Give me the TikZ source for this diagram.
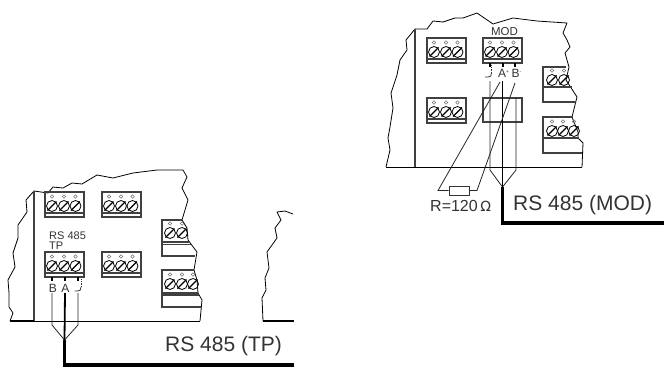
\documentclass[tikz,border=0pt]{standalone}
\usepackage{fontspec}
\setmainfont{Liberation Sans}
\newcommand{\fs}[1]{\fontsize{#1}{#1}\selectfont}
\tikzset{
 x=1pt,y=-1pt,
 outline/.style={draw=black,line width=0.8pt,line join=round},
 boxline/.style={draw=black!75,line width=1.1pt},
 thinwire/.style={draw=black!85,line width=0.8pt},
 midwire/.style={draw=black,line width=1.8pt},
 thickwire/.style={draw=black,line width=3.2pt,line join=miter},
 stub/.style={draw=black,line width=1.5pt},
 lab/.style={inner sep=0pt,text=black!80},
}
% screw at x,y
\newcommand{\screw}[2]{%
 \draw[black,line width=0.8pt] (#1,#2) circle (5.5);
 \draw[black,line width=1.1pt] (#1-4.5,#2+4.5) -- (#1+4.5,#2-4.5);
 \draw[black!55,line width=0.5pt] (#1,#2-9.5) circle (1.7);
}
% full terminal at top-left x,y
\newcommand{\term}[2]{%
 \draw[boxline] (#1,#2) rectangle ++(39,25);
 \draw[boxline] (#1,#2+21) -- ++(39,0);
 \screw{#1+7}{#2+14}\screw{#1+19}{#2+14}\screw{#1+30.5}{#2+14}
}
\begin{document}
\begin{tikzpicture}
\useasboundingbox (0,0) rectangle (672,370);
% ---------- MOD board
\draw[outline] (386,167) -- (390,150) -- (388,138) -- (390,127) -- (393,108) -- (391,93) -- (397,75) -- (400,60) -- (407,50) -- (406,40) -- (415,29) -- (427,29) -- (433,21) -- (443,22) -- (455,18) -- (463,18) -- (477,13) -- (493,24) -- (513,18) -- (537,21) -- (567,23) -- (563,33) -- (567,40) -- (570,47) -- (565,53) -- (569,67) -- (566,80) -- (577,97) -- (572,117) -- (578,132) -- (578,138) -- (583,143) -- (582,167);
\draw[boxline] (415,29) -- (415,167);
\draw[outline] (386,167) -- (582,167);
\term{427}{38}\term{483}{38}\term{427}{98}
\node[lab,font=\fs{11.5}] (modl) at (504.5,32) {MOD};
\draw[boxline] (483,98) rectangle (522,122);
% right terminals MOD
\draw[boxline] (566,67) -- (543,67) -- (543,102) -- (576,102);
\draw[boxline] (543,87) -- (572,87);
\screw{552}{80}\screw{564}{80}
\draw[boxline] (573,117) -- (543,117) -- (543,153) -- (582,153);
\draw[boxline] (543,138) -- (579,138);
\screw{552}{131}\screw{563}{131}\screw{574}{131}
% stubs
\draw[stub] (490,63) -- (490,67) (503,63) -- (503,67) (515,63) -- (515,67);
\draw[black!80,line width=0.8pt,densely dotted] (491.5,65) -- (491.5,73);
\draw[black!80,line width=0.8pt] (485,77) -- (488,77) .. controls (490.5,77) and (491.5,76) .. (491.5,73);
\node[lab,font=\fs{12}] (aplus) at (503.5,73) {A\raisebox{4pt}{\fs{5}+}};
\node[lab,font=\fs{12}] (bminus) at (516.5,73) {B\raisebox{4pt}{\fs{5}-}};
% wires MOD
\coordinate (mj) at (502.5,187);
\coordinate (ml) at (490,170);
\coordinate (mr) at (516,170);
\coordinate (mc) at (502.5,223);
\coordinate (me) at (664,223);
\draw[thinwire] (490,81) -- (ml) -- (mj) -- (mr) -- (516,97);
\draw[midwire] (502.5,81) -- (mj);
\draw[thickwire] (mj) -- (mc) -- (me);
\node[draw=black!80,line width=0.9pt,fill=white,minimum width=20pt,minimum height=9pt,inner sep=0pt] (res) at (459,190.5) {};
\coordinate (rl) at (438,190.5);
\coordinate (rr) at (477,190.5);
\draw[thinwire] (500,82) -- (rl) -- (res.west);
\draw[thinwire] (515,83) -- (rr) -- (res.east);
\node[lab,anchor=west,font=\fs{16}] (rtxt) at (430,206) {R=120\,{\fontspec{DejaVu Sans}\fs{14}Ω}};
\node[lab,anchor=west,font=\fs{21}] (modt) at (513,205.5) {RS 485 (MOD)};
% ---------- TP board
\draw[outline] (10,321) -- (13,313) -- (9,307) -- (9,293) -- (8,280) -- (15,267) -- (13,253) -- (18,238) -- (18,225) -- (27,212) -- (26,200) -- (34,191) -- (48,193) -- (53,187) -- (63,188) -- (72,183) -- (82,184) -- (97,175) -- (113,178) -- (133,173) -- (157,170) -- (183,170) -- (187,177) -- (182,188) -- (188,200) -- (182,220) -- (187,228) -- (188,240) -- (197,252) -- (194,270) -- (197,280) -- (198,293) -- (202,300) -- (200,321);
\draw[boxline] (34,191) -- (34,321);
\draw[outline] (34,321) -- (200,321);
\draw[line width=1.6pt] (10,321) -- (34,321);
\term{45}{192}\term{102}{192}\term{45}{252}\term{102}{252}
\node[lab,anchor=west,font=\fs{11}] (rs) at (49,236) {RS 485};
\node[lab,anchor=west,font=\fs{11}] (tp) at (49,246) {TP};
\draw[boxline] (182,220) -- (162,220) -- (162,256) -- (195,256);
\draw[boxline] (162,242) -- (190,242) (162,244.5) -- (191,244.5);
\screw{170}{233}\screw{182}{233}
\draw[boxline] (194,270) -- (162,270) -- (162,307) -- (201,307);
\draw[boxline] (162,293) -- (198,293) (162,295) -- (199,295);
\screw{170}{284}\screw{182}{284}\screw{193}{284}
\draw[stub] (52,277) -- (52,281) (65,277) -- (65,281) (78,277) -- (78,281);
\node[lab,font=\fs{12}] (bl) at (53,288) {B};
\node[lab,font=\fs{12}] (al) at (65.5,288) {A};
\draw[black!80,line width=0.8pt,densely dotted] (81,279) -- (81,287);
\draw[black!80,line width=0.8pt] (74.5,291) -- (77.5,291) .. controls (80,291) and (81,290) .. (81,287);
% wires TP
\coordinate (tj) at (64.5,340);
\coordinate (tl) at (52,325);
\coordinate (tr) at (78,325);
\coordinate (tc) at (64.5,365);
\coordinate (te) at (294,365);
\draw[thinwire] (52,293) -- (tl) -- (tj) -- (tr) -- (78,293);
\draw[midwire] (65,293) -- (tj);
\draw[thickwire] (tj) -- (tc) -- (te);
\node[lab,anchor=west,font=\fs{21}] (tpt) at (165,346.5) {RS 485 (TP)};
% ---------- fragment
\draw[outline] (293,214) -- (285,211) -- (277,212) -- (281,220) -- (275,228) -- (277,238) -- (267,252) -- (269,268) -- (265,278) -- (266,290) -- (262,298) -- (263,321);
\draw[line width=1.6pt] (263,321) -- (294,321);
\end{tikzpicture}
\end{document}
